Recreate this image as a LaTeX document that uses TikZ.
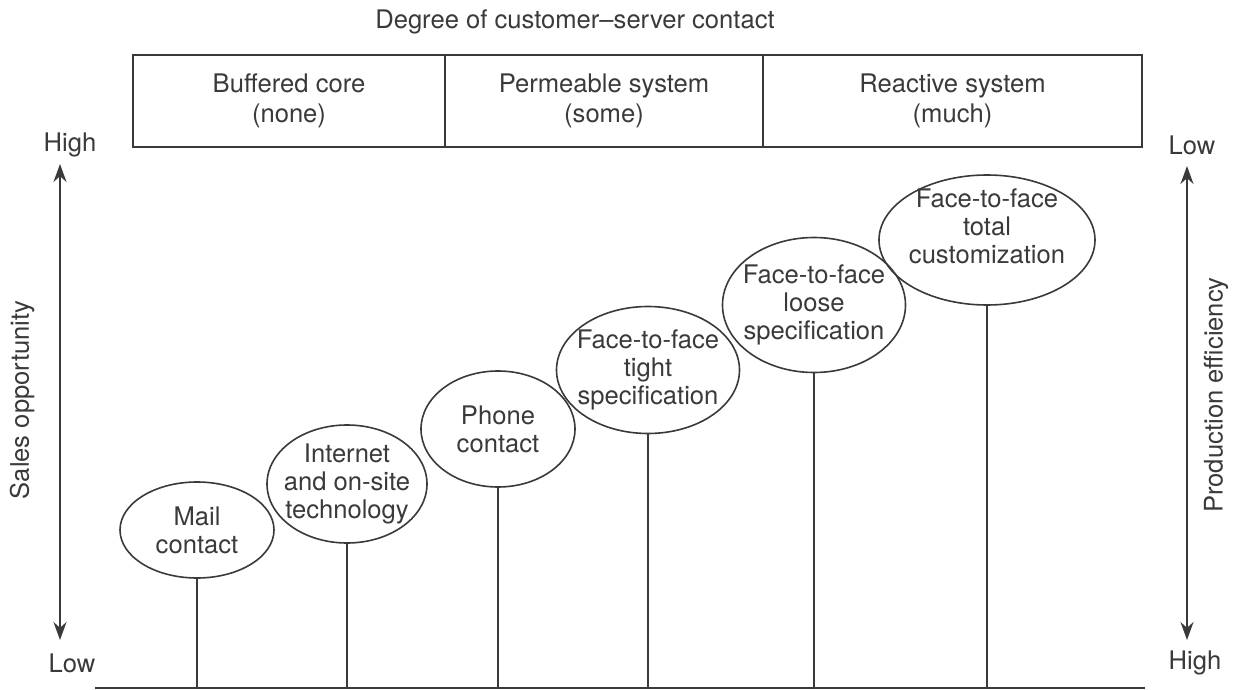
\documentclass[tikz,border=0pt]{standalone}
\usepackage{fontspec}
\setmainfont{TeX Gyre Heros}
\usetikzlibrary{shapes.geometric,arrows.meta}
\definecolor{ink}{HTML}{3A3A3A}
\begin{document}
\begin{tikzpicture}[x=0.5pt,y=-0.5pt,
  every node/.style={text=ink,font=\fontsize{12.8pt}{14pt}\selectfont},
  cell/.style={draw=ink,line width=0.9pt,minimum height=46pt,inner sep=0pt,align=center,font=\fontsize{12.8pt}{15pt}\selectfont},
  bubble/.style={draw=ink,line width=0.8pt,ellipse,inner sep=-12pt,align=center},
  stem/.style={draw=ink,line width=0.9pt},
  axis/.style={draw=ink,line width=0.9pt,{Stealth[length=9pt,width=6.5pt]}-{Stealth[length=9pt,width=6.5pt]}},
  lbl/.style={inner sep=0pt}]
\useasboundingbox (0,0) rectangle (1233,690);
\fill[white] (0,0) rectangle (1233,690);

% title
\node[lbl] (title) at (575,22) {Degree of customer\textendash server contact};

% header cells
\node[cell,minimum width=156pt] (c1) at (289,101) {Buffered core\\(none)};
\node[cell,minimum width=159pt] (c2) at (604,101) {Permeable system\\(some)};
\node[cell,minimum width=189.5pt] (c3) at (952.5,101) {Reactive system\\(much)};

% left axis
\node[lbl] (lhigh) at (70,145) {High};
\node[lbl] (llow) at (72,663) {Low};
\node[lbl,rotate=90] (lname) at (22,400) {Sales opportunity};
\coordinate (la) at (60,164);
\coordinate (lb) at (60,640);
\draw[axis] (la) -- (lb);

% right axis
\node[lbl] (rlow) at (1192,145) {Low};
\node[lbl] (rhigh) at (1195,663) {High};
\node[lbl,rotate=90] (rname) at (1216,395) {Production efficiency};
\coordinate (ra) at (1187,166);
\coordinate (rb) at (1187,640);
\draw[axis] (ra) -- (rb);

% baseline
\coordinate (b0) at (95,688);
\coordinate (b1) at (1145,688);
\draw[stem] (b0) -- (b1);

% bubbles
\node[bubble,minimum width=77pt,minimum height=48pt] (e1) at (197,530) {Mail\\contact};
\node[bubble,minimum width=80pt,minimum height=59pt] (e2) at (347,484) {Internet\\and on-site\\technology};
\node[bubble,minimum width=77pt,minimum height=58pt] (e3) at (498,429) {Phone\\contact};
\node[bubble,minimum width=91.5pt,minimum height=63.5pt] (e4) at (648,370) {Face-to-face\\tight\\specification};
\node[bubble,minimum width=91.5pt,minimum height=67.5pt] (e5) at (814,305) {Face-to-face\\loose\\specification};
\node[bubble,minimum width=108pt,minimum height=65pt,text depth=14pt] (e6) at (987,240) {Face-to-face\\total\\customization};

% stems
\foreach \e in {e1,e2,e3,e4,e5,e6}{
  \draw[stem] (\e.south) -- (\e.south |- b0);
}
\end{tikzpicture}
\end{document}
